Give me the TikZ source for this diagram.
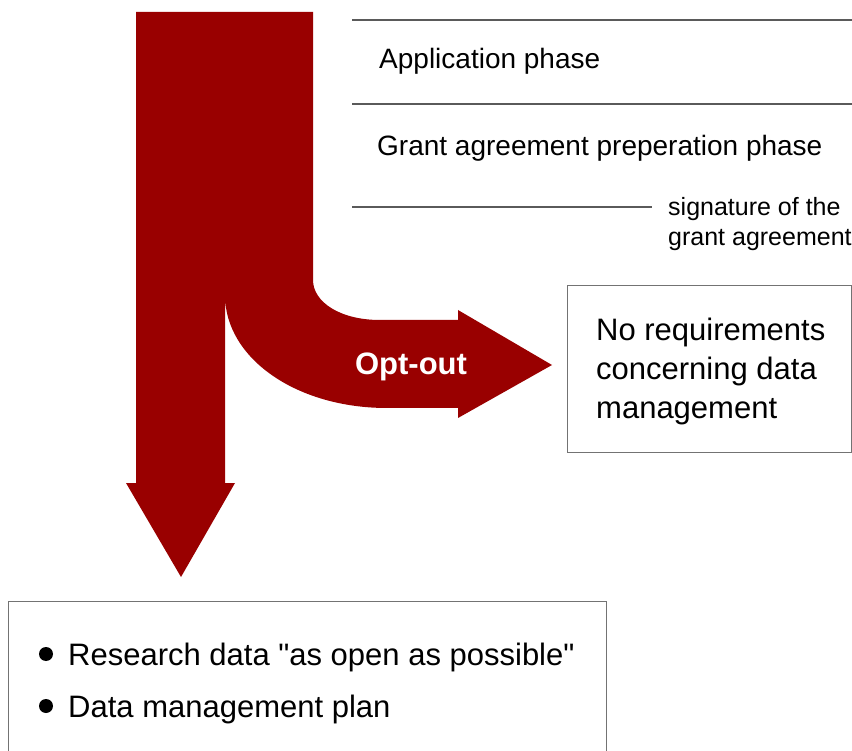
\documentclass[tikz,border=0pt]{standalone}
\usepackage{fontspec}
\setmainfont{Liberation Sans}[Ligatures=TeXOff]
\definecolor{arrowred}{RGB}{153,0,0}
\definecolor{linegray}{RGB}{90,90,90}
\begin{document}
\begin{tikzpicture}[x=1pt,y=1pt,
  phaseline/.style={draw=linegray,line width=1.1pt},
  phasetext/.style={anchor=base west,inner sep=0pt,font=\fontsize{28}{34}\selectfont},
  boxstyle/.style={draw=black!55,line width=1pt,fill=white},
  bodytext/.style={anchor=base west,inner sep=0pt,font=\fontsize{31}{38}\selectfont},
  listtext/.style={anchor=base west,inner sep=0pt,font=\fontsize{31}{36}\selectfont}]
\useasboundingbox (0,0) rectangle (852,-751);
% big arrow shape
\fill[arrowred] (136,-12) -- (313,-12) -- (313,-280)
  .. controls (313,-302) and (340,-320) .. (380,-320)
  -- (458,-320) -- (458,-310) -- (552,-365) -- (458,-418) -- (458,-408)
  -- (387,-408)
  .. controls (296,-408) and (225,-358) .. (225,-295)
  -- (225,-483) -- (235,-483) -- (181,-577) -- (126,-483) -- (136,-483) -- cycle;
\node[font=\bfseries\fontsize{31}{36}\selectfont,text=white,inner sep=0pt] (optout) at (411,-367) {Opt-out};
% phase lines
\coordinate (l1a) at (352,-20); \coordinate (l1b) at (852,-20);
\coordinate (l2a) at (352,-104); \coordinate (l2b) at (852,-104);
\coordinate (l3a) at (352,-207); \coordinate (l3b) at (652,-207);
\draw[phaseline] (l1a) -- (l1b);
\draw[phaseline] (l2a) -- (l2b);
\draw[phaseline] (l3a) -- (l3b);
\node[phasetext] (app) at (379,-69) {Application phase};
\node[phasetext] (grant) at (377,-156) {Grant agreement preperation phase};
\node[anchor=base west,inner sep=0pt,font=\fontsize{25}{30}\selectfont] (sig) at (668,-216) {signature of the};
\node[anchor=base west,inner sep=0pt,font=\fontsize{25}{30}\selectfont] (sig2) at (668,-246) {grant agreement};
% right box
\draw[boxstyle] (567,-286) rectangle (851,-452);
\node[bodytext] (no1) at (596,-341) {No requirements};
\node[bodytext] (no2) at (596,-380) {concerning data};
\node[bodytext] (no3) at (596,-419) {management};
% bottom box
\draw[boxstyle] (8,-601) rectangle (606,-760);
\fill[black] (46,-654) circle (7);
\fill[black] (46,-706) circle (7);
\node[listtext] (b1) at (68,-665) {Research data "as open as possible"};
\node[listtext] (b2) at (68,-717) {Data management plan};
\end{tikzpicture}
\end{document}
